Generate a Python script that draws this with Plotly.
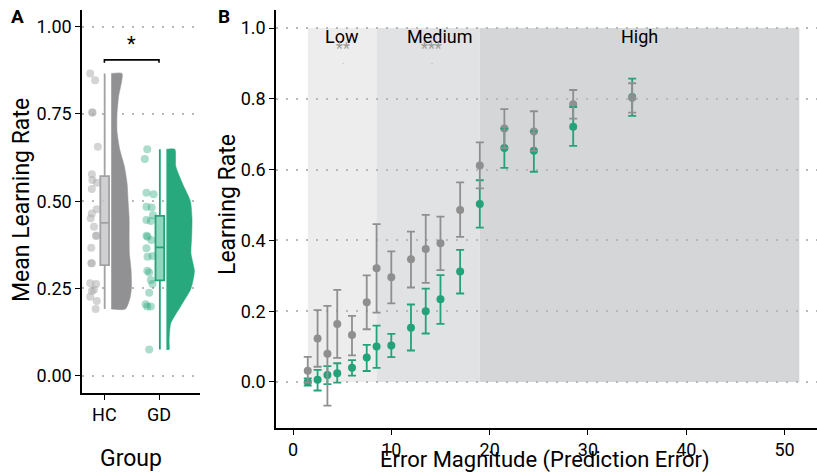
import plotly.graph_objects as go

# ---------------- Panel A data ----------------
groups = ["HC", "GD"]
group_pos = [1, 2]

hc_pts_x = [0.74, 0.83, 0.78, 0.78, 0.88, 0.77, 0.78, 0.86, 0.77, 0.86, 0.77, 0.75, 0.81, 0.85, 0.85,
            0.76, 0.76, 0.77, 0.85, 0.74, 0.77, 0.81, 0.74, 0.86, 0.84]
hc_pts_y = [0.866, 0.847, 0.754, 0.754, 0.656, 0.577, 0.561, 0.553, 0.535, 0.477, 0.465, 0.451, 0.427, 0.401, 0.401,
            0.367, 0.322, 0.322, 0.263, 0.265, 0.243, 0.246, 0.226, 0.214, 0.191]

gd_pts_x = [1.785, 1.74, 1.77, 1.90, 1.77, 1.865, 1.89, 1.77, 1.85, 1.77, 1.79, 1.86, 1.77, 1.79, 1.88,
            1.785, 1.82, 1.85, 1.88, 1.82, 1.755, 1.785, 1.85, 1.82]
gd_pts_y = [0.649, 0.621, 0.524, 0.520, 0.484, 0.482, 0.460, 0.446, 0.443, 0.401, 0.398, 0.389, 0.365, 0.341, 0.343,
            0.301, 0.296, 0.274, 0.263, 0.238, 0.205, 0.198, 0.198, 0.075]

# box statistics: q1, median, q3, lower whisker, upper whisker
hc_box = [0.317, 0.438, 0.572, 0.191, 0.866]
gd_box = [0.273, 0.368, 0.458, 0.075, 0.649]

# half-violin density outlines (y level, half width in x units)
hc_v_y = [0.191, 0.22, 0.25, 0.30, 0.35, 0.40, 0.45, 0.50, 0.55, 0.60, 0.65, 0.70, 0.75, 0.80, 0.866]
hc_v_w = [0.259, 0.339, 0.370, 0.365, 0.333, 0.328, 0.328, 0.309, 0.291, 0.241, 0.154, 0.106, 0.106, 0.135, 0.198]
gd_v_y = [0.075, 0.10, 0.15, 0.20, 0.25, 0.30, 0.35, 0.40, 0.45, 0.50, 0.55, 0.60, 0.649]
gd_v_w = [0.05, 0.05, 0.08, 0.265, 0.45, 0.513, 0.45, 0.463, 0.469, 0.439, 0.296, 0.172, 0.154]

# ---------------- Panel B data ----------------
err_x = [1.5, 2.5, 3.5, 4.5, 6, 7.5, 8.5, 10, 12, 13.5, 15, 17, 19, 21.5, 24.5, 28.5, 34.5]
hc_mean = [0.032, 0.123, 0.080, 0.164, 0.133, 0.225, 0.321, 0.296, 0.347, 0.376, 0.392, 0.486, 0.612, 0.716, 0.708, 0.785, 0.803]
hc_hi = [0.071, 0.203, 0.215, 0.260, 0.187, 0.301, 0.446, 0.369, 0.425, 0.472, 0.467, 0.564, 0.677, 0.771, 0.765, 0.825, 0.844]
hc_lo = [-0.002, 0.043, -0.067, 0.068, 0.075, 0.149, 0.196, 0.222, 0.267, 0.280, 0.316, 0.410, 0.547, 0.661, 0.653, 0.744, 0.761]
gd_mean = [0.000, 0.006, 0.020, 0.025, 0.040, 0.069, 0.100, 0.103, 0.153, 0.200, 0.234, 0.312, 0.503, 0.661, 0.653, 0.721, 0.805]
gd_hi = [0.010, 0.034, 0.045, 0.053, 0.062, 0.105, 0.159, 0.136, 0.219, 0.264, 0.302, 0.373, 0.570, 0.716, 0.708, 0.777, 0.857]
gd_lo = [-0.010, -0.024, -0.006, -0.002, 0.018, 0.031, 0.040, 0.070, 0.089, 0.137, 0.164, 0.250, 0.436, 0.605, 0.594, 0.667, 0.752]

regions = ["Low", "Medium", "High"]
region_start = [1.5, 8.5, 19.0]
region_end = [8.5, 19.0, 51.5]
region_label_x = [5.0, 15.0, 35.2]
region_colors = ["#ededed", "#e1e2e4", "#d5d6d8"]
sig_labels = ["**", "***"]
sig_x = [5.1, 14.1]

GRAY = "#8f8f90"
GREEN = "#24a27a"
FONT = "Roboto"

fig = go.Figure()

# ----- Panel A -----
for base, vy, vw, col in [(1.125, hc_v_y, hc_v_w, "#919193"), (2.135, gd_v_y, gd_v_w, "#27a87d")]:
    xs = [base] + [base + w for w in vw] + [base]
    ys = [vy[0]] + vy + [vy[-1]]
    fig.add_trace(go.Scatter(x=xs, y=ys, mode="lines", fill="toself", fillcolor=col,
                             line=dict(color=col, width=0.5, shape="spline", smoothing=0.6),
                             xaxis="x", yaxis="y", showlegend=False, hoverinfo="skip"))

fig.add_trace(go.Scatter(x=hc_pts_x, y=hc_pts_y, mode="markers",
                         marker=dict(size=8, color="rgba(170,170,170,0.5)"),
                         xaxis="x", yaxis="y", showlegend=False))
fig.add_trace(go.Scatter(x=gd_pts_x, y=gd_pts_y, mode="markers",
                         marker=dict(size=8, color="rgba(38,162,122,0.38)"),
                         xaxis="x", yaxis="y", showlegend=False))

for pos, b, fillc, linec in [(1.005, hc_box, "rgba(200,200,202,0.85)", "#a2a2a4"),
                             (2.015, gd_box, "rgba(110,200,170,0.75)", GREEN)]:
    fig.add_trace(go.Box(x=[pos], q1=[b[0]], median=[b[1]], q3=[b[2]],
                         lowerfence=[b[3]], upperfence=[b[4]], width=0.16,
                         whiskerwidth=0, fillcolor=fillc, line=dict(color=linec, width=1.8),
                         boxpoints=False, xaxis="x", yaxis="y", showlegend=False))

fig.add_trace(go.Scatter(x=[1, 1, 2, 2], y=[0.897, 0.905, 0.905, 0.897], mode="lines",
                         line=dict(color="black", width=1.6), xaxis="x", yaxis="y",
                         showlegend=False, hoverinfo="skip"))

# ----- Panel B -----
for i, r in enumerate(regions):
    fig.add_shape(type="rect", xref="x2", yref="y2", x0=region_start[i], x1=region_end[i],
                  y0=0, y1=1.0, fillcolor=region_colors[i], line=dict(width=0), layer="below")

fig.add_trace(go.Scatter(x=err_x, y=gd_mean, mode="markers", marker=dict(size=8, color=GREEN),
                         xaxis="x2", yaxis="y2", showlegend=False))
fig.add_trace(go.Scatter(x=err_x, y=hc_mean, mode="markers", marker=dict(size=8, color=GRAY),
                         xaxis="x2", yaxis="y2", showlegend=False))
for mean, hi, lo, col in [(gd_mean, gd_hi, gd_lo, GREEN), (hc_mean, hc_hi, hc_lo, GRAY)]:
    fig.add_trace(go.Scatter(x=err_x, y=mean, mode="markers", marker=dict(size=1, opacity=0),
                             error_y=dict(type="data", symmetric=False,
                                          array=[h - m for h, m in zip(hi, mean)],
                                          arrayminus=[m - l for m, l in zip(mean, lo)],
                                          color=col, thickness=1.8, width=4),
                             xaxis="x2", yaxis="y2", showlegend=False, hoverinfo="skip"))

axis_common = dict(showline=True, linecolor="black", linewidth=1.5, ticks="outside",
                   ticklen=5, tickwidth=1.3, tickcolor="black", zeroline=False,
                   tickfont=dict(size=18, color="black", family=FONT))
grid = dict(showgrid=True, gridcolor="#b8b8b8", gridwidth=2, griddash="2px,8px")

fig.update_layout(
    width=817, height=474, margin=dict(l=0, r=0, t=0, b=0),
    paper_bgcolor="white", plot_bgcolor="white",
    font=dict(family=FONT, color="black"),
    xaxis=dict(domain=[82 / 817, 200 / 817], range=[0.59, 2.75], tickvals=group_pos,
               ticktext=groups, showgrid=False, **axis_common),
    yaxis=dict(domain=[1 - 393 / 474, 1 - 10 / 474], range=[-0.0496, 1.048],
               tickvals=[0, 0.25, 0.5, 0.75, 1.0], tickformat=".2f", **grid, **axis_common),
    xaxis2=dict(domain=[276 / 817, 1.0], range=[-1.73, 53.3], tickvals=[0, 10, 20, 30, 40, 50],
                showgrid=False, anchor="y2", **axis_common),
    yaxis2=dict(domain=[1 - 428 / 474, 1 - 10 / 474], range=[-0.13, 1.051],
                tickvals=[0, 0.2, 0.4, 0.6, 0.8, 1.0], tickformat=".1f", anchor="x2",
                **grid, **axis_common),
)

def pa(text, x, y, size, angle=0, color="black"):
    return dict(text=text, x=x / 817, y=1 - y / 474, xref="paper", yref="paper",
                xanchor="center", yanchor="middle", textangle=angle, showarrow=False,
                font=dict(size=size, color=color))

ann = [
    pa("<b>A</b>", 17, 16, 19),
    pa("<b>B</b>", 224, 16, 19),
    pa("Mean Learning Rate", 22, 200, 23, -90),
    pa("Group", 131, 458, 23),
    pa("Learning Rate", 228, 205, 23, -90),
    pa("Error Magnitude (Prediction Error)", 545, 460, 22),
    dict(text="*", x=1.5, y=0.95, xref="x", yref="y", showarrow=False,
         xanchor="center", yanchor="middle", font=dict(size=20)),
]
for i, r in enumerate(regions):
    ann.append(dict(text=r, x=region_label_x[i], y=0.977, xref="x2", yref="y2", showarrow=False,
                    xanchor="center", yanchor="middle", font=dict(size=18)))
for i, s in enumerate(sig_labels):
    ann.append(dict(text=s, x=sig_x[i], y=0.942, xref="x2", yref="y2", showarrow=False,
                    xanchor="center", yanchor="middle", font=dict(size=16, color="#9a9a9a")))
    ann.append(dict(text=".", x=sig_x[i], y=0.905, xref="x2", yref="y2", showarrow=False,
                    xanchor="center", yanchor="middle", font=dict(size=8, color="#9a9a9a")))
fig.update_layout(annotations=ann)

fig.write_html("out.html")
